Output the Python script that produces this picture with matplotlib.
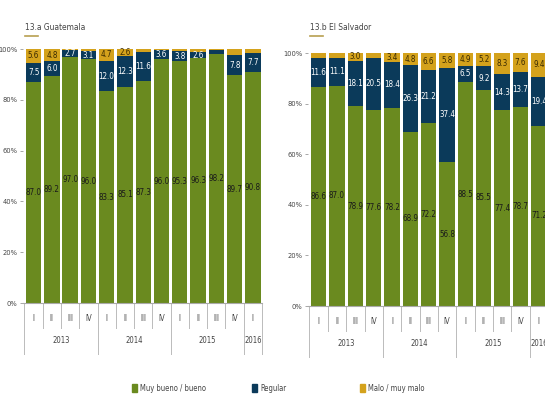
import matplotlib
matplotlib.use("Agg")
import matplotlib.pyplot as plt
from matplotlib.patches import Rectangle
from matplotlib.transforms import blended_transform_factory

plt.rcParams['font.family'] = ['DejaVu Sans']
plt.rcParams['font.stretch'] = 'condensed'

quarters = ["I", "II", "III", "IV", "I", "II", "III", "IV", "I", "II", "III", "IV", "I"]
years = ["2013", "2014", "2015", "2016"]
year_counts = [4, 4, 4, 1]

gt_good = [87.0, 89.2, 97.0, 96.0, 83.3, 85.1, 87.3, 96.0, 95.3, 96.3, 98.2, 89.7, 90.8]
gt_reg = [7.5, 6.0, 2.7, 3.1, 12.0, 12.3, 11.6, 3.6, 3.8, 2.6, 1.5, 7.8, 7.7]
gt_bad = [5.6, 4.8, 0.3, 0.9, 4.7, 2.6, 1.1, 0.4, 0.9, 1.1, 0.3, 2.5, 1.5]

sv_good = [86.6, 87.0, 78.9, 77.6, 78.2, 68.9, 72.2, 56.8, 88.5, 85.5, 77.4, 78.7, 71.2]
sv_reg = [11.6, 11.1, 18.1, 20.5, 18.4, 26.3, 21.2, 37.4, 6.5, 9.2, 14.3, 13.7, 19.4]
sv_bad = [1.8, 1.9, 3.0, 1.9, 3.4, 4.8, 6.6, 5.8, 4.9, 5.2, 8.3, 7.6, 9.4]

series_names = ["Muy bueno / bueno", "Regular", "Malo / muy malo"]
C_GOOD = "#6a8a1f"
C_REG = "#0b3a5a"
C_BAD = "#d4a21c"

W, H = 545, 415
fig = plt.figure(figsize=(W / 100, H / 100), dpi=100)
fig.patch.set_facecolor("white")


def px_axes(x0, y0, x1, y1):
    return fig.add_axes([x0 / W, 1 - y1 / H, (x1 - x0) / W, (y1 - y0) / H])


def draw_panel(ax, good, reg, bad, title, title_x):
    x = list(range(len(good)))
    bw = 0.84
    base2 = [g + r for g, r in zip(good, reg)]
    ax.bar(x, good, bw, color=C_GOOD, zorder=2)
    ax.bar(x, reg, bw, bottom=good, color=C_REG, zorder=2)
    ax.bar(x, bad, bw, bottom=base2, color=C_BAD, zorder=2)
    ax.set_xlim(-0.58, len(good) - 0.5)
    ax.set_ylim(0, 100)
    ax.set_yticks([0, 20, 40, 60, 80, 100])
    ax.set_yticklabels(["0%", "20%", "40%", "60%", "80%", "100%"], fontsize=5.3, color="#444444")
    ax.tick_params(axis="y", length=2.5, width=0.6, color="#999999", pad=1.5)
    ax.set_xticks([])
    for s in ["top", "right", "left"]:
        ax.spines[s].set_visible(False)
    ax.spines["bottom"].set_color("#aaaaaa")
    ax.spines["bottom"].set_linewidth(0.8)
    fs = 5.8
    for i in x:
        ax.text(i, good[i] / 2, f"{good[i]:.1f}", ha="center", va="center",
                fontsize=fs, color="#1a1a1a", zorder=3)
        if reg[i] >= 2.0:
            ax.text(i, good[i] + reg[i] / 2, f"{reg[i]:.1f}", ha="center", va="center",
                    fontsize=fs, color="white", zorder=3)
        if bad[i] >= 2.55:
            ax.text(i, base2[i] + bad[i] / 2, f"{bad[i]:.1f}", ha="center", va="center",
                    fontsize=fs, color="#3a2a00", zorder=3)
    tr = blended_transform_factory(ax.transData, ax.transAxes)
    for i, q in enumerate(quarters):
        ax.text(i, -0.06, q, transform=tr, ha="center", va="center",
                fontsize=5.5, color="#444444", clip_on=False)
    pos = -0.5
    bounds = [pos]
    for yname, cnt in zip(years, year_counts):
        ax.text(pos + cnt / 2, -0.148, yname, transform=tr, ha="center", va="center",
                fontsize=5.5, color="#444444", clip_on=False)
        pos += cnt
        bounds.append(pos)
    for b in range(len(good) + 1):
        bx = b - 0.5
        if bx in bounds:
            ax.plot([bx, bx], [0, -0.2], transform=tr, color="#bbbbbb", lw=0.7, clip_on=False)
        else:
            ax.plot([bx, bx], [0, -0.1], transform=tr, color="#bbbbbb", lw=0.7, clip_on=False)
    fig.text(title_x / W, 1 - 28 / H, title, fontsize=6, color="#444444", ha="left", va="center")
    fig.add_artist(plt.Line2D([title_x / W, (title_x + 13) / W], [1 - 36 / H, 1 - 36 / H],
                              color="#b8a050", lw=1.2))


ax1 = px_axes(23, 49, 262, 303)
draw_panel(ax1, gt_good, gt_reg, gt_bad, "13.a Guatemala", 25)

ax2 = px_axes(308, 53, 548, 306)
draw_panel(ax2, sv_good, sv_reg, sv_bad, "13.b El Salvador", 310)

leg_items = [(132, C_GOOD, series_names[0]), (252, C_REG, series_names[1]), (360, C_BAD, series_names[2])]
for lx, col, name in leg_items:
    fig.add_artist(Rectangle((lx / W, 1 - 392 / H), 5 / W, 8 / H, color=col, transform=fig.transFigure))
    fig.text((lx + 8) / W, 1 - 388 / H, name, fontsize=5.5, color="#444444", ha="left", va="center")

fig.savefig("out.png", dpi=100, facecolor="white")
